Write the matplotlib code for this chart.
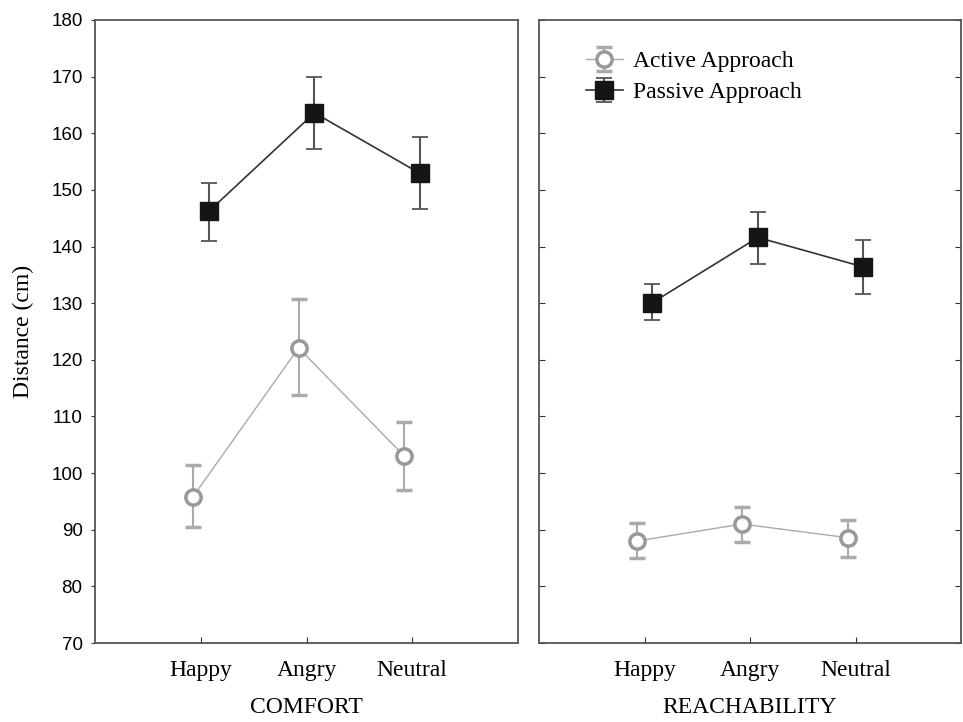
import numpy as np
import matplotlib
matplotlib.use("Agg")
import matplotlib.pyplot as plt

emotions = ["Happy", "Angry", "Neutral"]
panels = ["COMFORT", "REACHABILITY"]

# means and error bar ends
active_mean = [[95.8, 122.1, 103.0], [88.0, 91.0, 88.6]]
active_hi = [[101.5, 130.7, 109.0], [91.2, 94.0, 91.8]]
active_lo = [[90.5, 113.8, 97.1], [85.0, 87.8, 85.2]]

passive_mean = [[146.2, 163.6, 152.9], [130.1, 141.6, 136.4]]
passive_hi = [[151.3, 169.9, 159.4], [133.3, 146.1, 141.2]]
passive_lo = [[141.0, 157.2, 146.6], [127.0, 137.0, 131.7]]

serif = "Liberation Serif"
sans = "Liberation Sans"

fig = plt.figure(figsize=(9.63, 7.22), dpi=100)
ax1 = fig.add_axes([0.0987, 0.1094, 0.4392, 0.8629])
ax2 = fig.add_axes([0.5597, 0.1094, 0.4383, 0.8629])

x = np.arange(len(emotions))
dodge = 0.075

for i, ax in enumerate([ax1, ax2]):
    am = np.array(active_mean[i])
    pm = np.array(passive_mean[i])
    a_err = [am - np.array(active_lo[i]), np.array(active_hi[i]) - am]
    p_err = [pm - np.array(passive_lo[i]), np.array(passive_hi[i]) - pm]

    ax.errorbar(x - dodge, am, yerr=a_err, color="#aaaaaa", ecolor="#aaaaaa",
                elinewidth=1.5, capsize=6, capthick=1.3, lw=1.0,
                marker="o", ms=11, mfc="white", mec="#999999", mew=2.5,
                label="Active Approach", zorder=3)
    ax.errorbar(x + dodge, pm, yerr=p_err, color="#333333", ecolor="#555555",
                elinewidth=1.5, capsize=6, capthick=1.3, lw=1.2,
                marker="s", ms=13, mfc="#151515", mec="#151515",
                label="Passive Approach", zorder=4)

    ax.set_xlim(-1, 3)
    ax.set_ylim(70, 180)
    ax.set_yticks(np.arange(70, 181, 10))
    ax.set_xticks(x)
    ax.set_xticklabels(emotions, fontfamily=serif, fontsize=17)
    ax.set_xlabel(panels[i], fontfamily=serif, fontsize=17, labelpad=12)
    for s in ax.spines.values():
        s.set_color("#555555")
        s.set_linewidth(1.3)
    ax.tick_params(axis="x", direction="in", length=4, pad=12, color="#333333")

ax1.set_yticklabels([str(v) for v in range(70, 181, 10)], fontfamily=sans, fontsize=13.5)
ax1.tick_params(axis="y", direction="out", length=3, pad=6, color="#333333")
ax1.set_ylabel("Distance (cm)", fontfamily=serif, fontsize=17, labelpad=12)

ax2.tick_params(axis="y", direction="in", length=4, left=True, right=True,
                labelleft=False, color="#333333")

leg = ax2.legend(loc="upper left", bbox_to_anchor=(0.06, 0.985), frameon=False,
                 prop={"family": serif, "size": 17}, handlelength=1.6,
                 handletextpad=0.4, labelspacing=0.4)

fig.savefig("out.png", dpi=100)
